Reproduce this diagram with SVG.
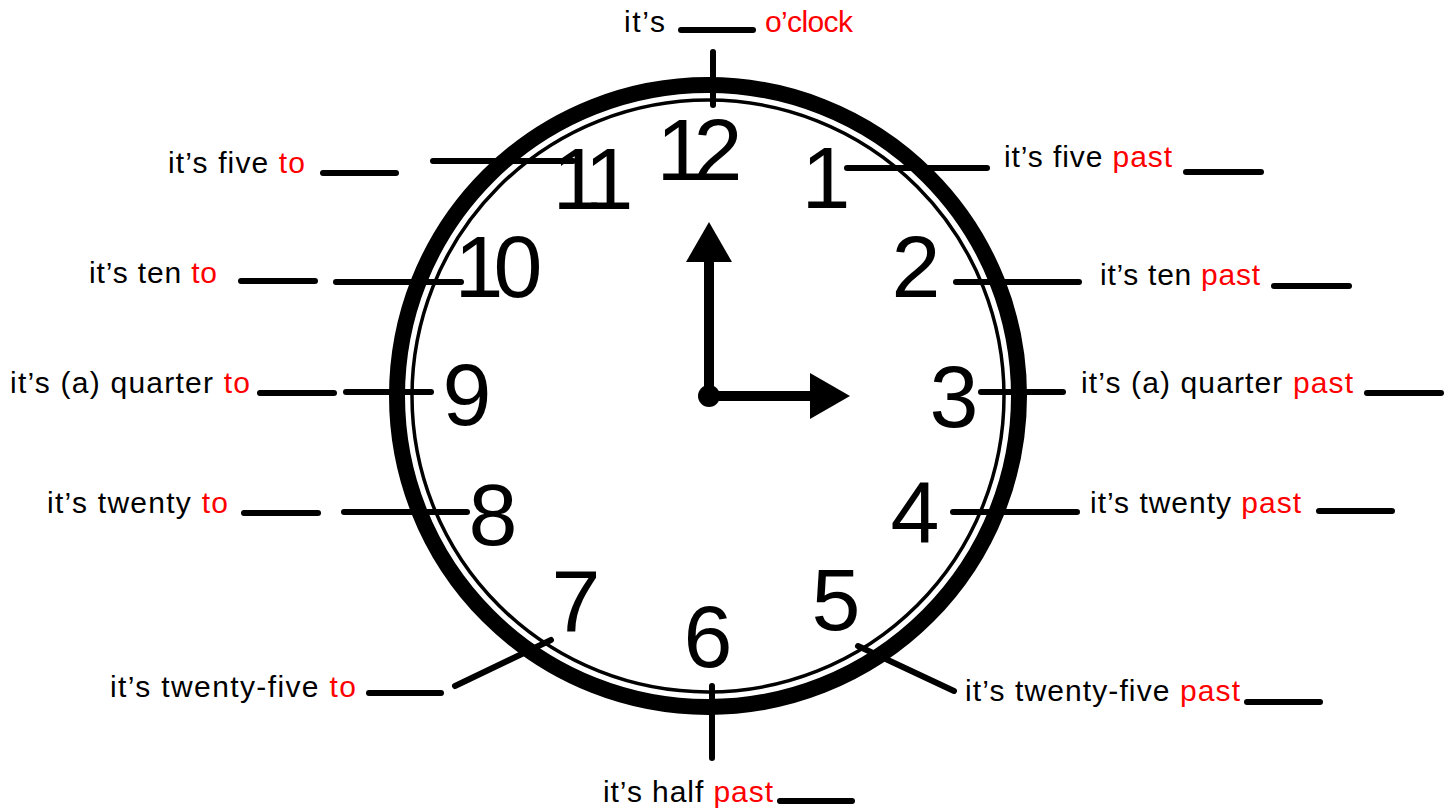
<svg xmlns="http://www.w3.org/2000/svg" width="1453" height="811" viewBox="0 0 1453 811">
<style>
.lbl{font-family:"Liberation Sans",Arial,sans-serif;font-size:30px;fill:#000}
.red{fill:#ff0000}
.num{font-family:"Liberation Sans",Arial,sans-serif;font-size:88px;fill:#000;text-anchor:middle}
.ln{stroke:#000;stroke-width:6;stroke-linecap:round;fill:none}
.hand{stroke:#000;stroke-width:10;stroke-linecap:butt;fill:none}
</style>
<rect width="1453" height="811" fill="#fff"/>
<g id="clock-face">
<circle cx="708" cy="396" r="311" fill="none" stroke="#000" stroke-width="16"/>
<circle cx="708" cy="396" r="296" fill="none" stroke="#000" stroke-width="3.5"/>
</g>
<g id="connectors">
<line class="ln" x1="713" y1="52" x2="713" y2="105"/>
<line class="ln" x1="847" y1="168" x2="987" y2="168"/>
<line class="ln" x1="956" y1="282" x2="1079" y2="282"/>
<line class="ln" x1="981" y1="392" x2="1063" y2="392"/>
<line class="ln" x1="953" y1="512" x2="1077" y2="512"/>
<line class="ln" x1="858" y1="646" x2="954" y2="691"/>
<line class="ln" x1="712" y1="686" x2="712" y2="758"/>
<line class="ln" x1="455" y1="686" x2="551" y2="640"/>
<line class="ln" x1="344" y1="512" x2="467" y2="512"/>
<line class="ln" x1="346" y1="392" x2="431" y2="392"/>
<line class="ln" x1="336" y1="282" x2="461" y2="282"/>
<line class="ln" x1="433" y1="161" x2="573" y2="161"/>
</g>
<g id="numbers">
<text class="num" x="681 718" y="180">12</text>
<text class="num" x="826" y="208">1</text>
<text class="num" x="916" y="297">2</text>
<text class="num" x="954" y="427">3</text>
<text class="num" x="915" y="543">4</text>
<text class="num" x="836" y="630">5</text>
<text class="num" x="708" y="667">6</text>
<text class="num" x="576" y="632">7</text>
<text class="num" x="493" y="545">8</text>
<text class="num" x="467" y="425">9</text>
<text class="num" x="479 518" y="297">10</text>
<text class="num" x="577 609" y="209">11</text>
</g>
<g id="hands">
<line class="hand" x1="709" y1="396" x2="709" y2="258"/>
<polygon points="709,222 686,262 732,262" fill="#000"/>
<line class="hand" x1="709" y1="396" x2="814" y2="396"/>
<polygon points="850,396 810,373 810,419" fill="#000"/>
<circle cx="709" cy="396" r="11" fill="#000"/>
</g>
<g id="label-oclock">
<text class="lbl" x="624" y="32" textLength="41">it’s</text>
<line class="ln" x1="681" y1="30" x2="753" y2="30"/>
<text class="lbl red" x="765" y="32" textLength="88">o’clock</text>
</g>
<g id="label-five-past">
<text class="lbl" x="1004" y="167" textLength="168">it’s five <tspan class="red">past</tspan></text>
<line class="ln" x1="1186" y1="172" x2="1261" y2="172"/>
</g>
<g id="label-ten-past">
<text class="lbl" x="1100" y="285" textLength="160">it’s ten <tspan class="red">past</tspan></text>
<line class="ln" x1="1274" y1="286" x2="1349" y2="286"/>
</g>
<g id="label-quarter-past">
<text class="lbl" x="1081" y="393" textLength="272">it’s (a) quarter <tspan class="red">past</tspan></text>
<line class="ln" x1="1367" y1="393" x2="1441" y2="393"/>
</g>
<g id="label-twenty-past">
<text class="lbl" x="1090" y="513" textLength="211">it’s twenty <tspan class="red">past</tspan></text>
<line class="ln" x1="1319" y1="511" x2="1392" y2="511"/>
</g>
<g id="label-twenty-five-past">
<text class="lbl" x="965" y="701" textLength="275">it’s twenty-five <tspan class="red">past</tspan></text>
<line class="ln" x1="1247" y1="702" x2="1320" y2="702"/>
</g>
<g id="label-half-past">
<text class="lbl" x="603" y="802" textLength="170">it’s half <tspan class="red">past</tspan></text>
<line class="ln" x1="780" y1="801" x2="852" y2="801"/>
</g>
<g id="label-twenty-five-to">
<text class="lbl" x="110" y="697" textLength="246">it’s twenty-five <tspan class="red">to</tspan></text>
<line class="ln" x1="369" y1="693" x2="441" y2="693"/>
</g>
<g id="label-twenty-to">
<text class="lbl" x="47" y="513" textLength="181">it’s twenty <tspan class="red">to</tspan></text>
<line class="ln" x1="244" y1="513" x2="318" y2="513"/>
</g>
<g id="label-quarter-to">
<text class="lbl" x="10" y="393" textLength="240">it’s (a) quarter <tspan class="red">to</tspan></text>
<line class="ln" x1="260" y1="393" x2="334" y2="393"/>
</g>
<g id="label-ten-to">
<text class="lbl" x="89" y="283" textLength="128">it’s ten <tspan class="red">to</tspan></text>
<line class="ln" x1="241" y1="281" x2="315" y2="281"/>
</g>
<g id="label-five-to">
<text class="lbl" x="168" y="173" textLength="137">it’s five <tspan class="red">to</tspan></text>
<line class="ln" x1="323" y1="173" x2="396" y2="173"/>
</g>
</svg>
